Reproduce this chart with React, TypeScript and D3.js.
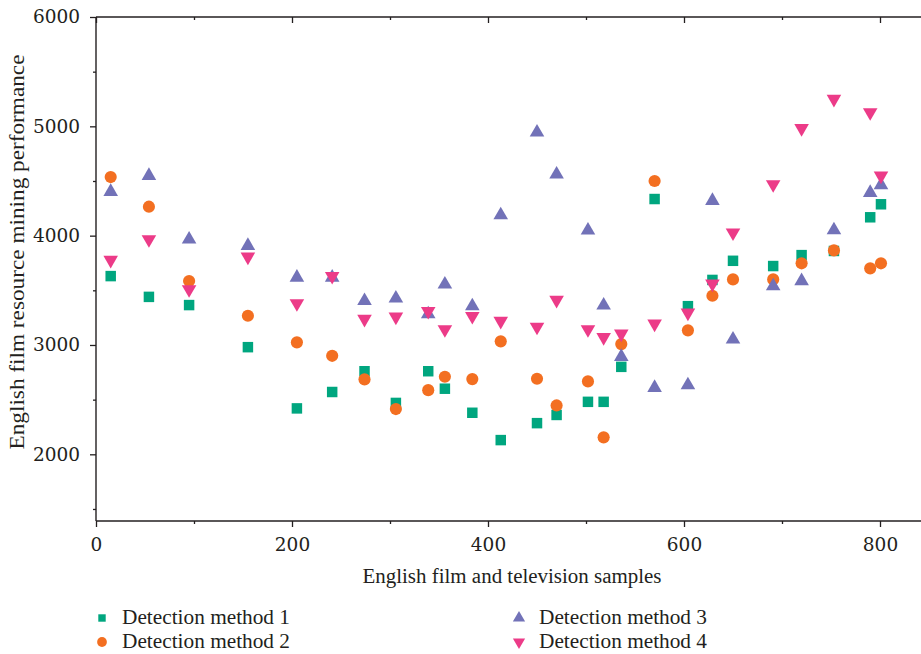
import React, { useEffect, useRef } from 'react';
import * as d3 from 'd3';

// sample positions (x axis) shared by all four methods
const samples = [15, 54, 95, 155, 205, 241, 274, 306, 339, 356, 384, 413, 450, 470, 502, 518, 536, 570, 604, 629, 650, 691, 720, 753, 790, 801];

const method1 = [3630, 3440, 3365, 2980, 2420, 2570, 2760, 2470, 2760, 2600, 2380, 2130, 2285, 2360, 2480, 2480, 2800, 4335, 3355, 3595, 3770, 3722, 3822, 3860, 4168, 4287];
const method2 = [4536, 4265, 3585, 3267, 3024, 2901, 2685, 2414, 2587, 2709, 2688, 3033, 2691, 2447, 2667, 2155, 3008, 4500, 3134, 3450, 3600, 3600, 3747, 3865, 3701, 3747];
const method3 = [4402, 4548, 3966, 3908, 3618, 3618, 3404, 3426, 3283, 3554, 3356, 4188, 4945, 4561, 4048, 3362, 2892, 2609, 2633, 4319, 3051, 3539, 3585, 4051, 4393, 4463];
const method4 = [3777, 3966, 3509, 3807, 3380, 3630, 3237, 3258, 3310, 3143, 3264, 3219, 3166, 3411, 3143, 3070, 3102, 3194, 3295, 3560, 4027, 4469, 4982, 5250, 5128, 4548];

const seriesNames = ['Detection method 1', 'Detection method 2', 'Detection method 3', 'Detection method 4'];
const seriesColors = ['#00a67f', '#f36f21', '#7272b8', '#ec3b88'];

const xTicks = [0, 200, 400, 600, 800];
const xMinor = [100, 300, 500, 700];
const yTicks = [2000, 3000, 4000, 5000, 6000];
const yMinor = [1500, 2500, 3500, 4500, 5500];

const W = 921;
const H = 654;
const FONT = 'Liberation Serif, Times New Roman, serif';
const TICK_FONT = 'DejaVu Serif, serif';

const App = () => {
  const svgRef = useRef<SVGSVGElement>(null);

  useEffect(() => {
    const svg = d3.select(svgRef.current);
    svg.selectAll('*').remove();

    const left = 96, top = 17, bottom = 521, right = 925;

    const x = d3.scaleLinear().domain([0, (right - left) / 0.98]).range([left, right]);
    const y = d3.scaleLinear().domain([1390, 6000]).range([bottom, top]);

    const axisColor = '#231f20';

    // frame lines
    const frame = svg.append('g').attr('stroke', axisColor).attr('stroke-width', 1.4).attr('fill', 'none');
    frame.append('line').attr('x1', left).attr('x2', left).attr('y1', top).attr('y2', bottom);
    frame.append('line').attr('x1', left).attr('x2', W).attr('y1', top).attr('y2', top);
    frame.append('line').attr('x1', left).attr('x2', W).attr('y1', bottom).attr('y2', bottom);

    // bottom axis
    const gx = svg.append('g').attr('transform', `translate(0, ${bottom})`)
      .call(d3.axisBottom(x).tickValues(xTicks).tickSize(6).tickPadding(11).tickFormat(d3.format('d')));
    gx.append('g').call(d3.axisBottom(x).tickValues(xMinor).tickSize(3).tickFormat(() => ''));

    // top axis (ticks pointing in)
    const gt = svg.append('g').attr('transform', `translate(0, ${top})`)
      .call(d3.axisTop(x).tickValues(xTicks).tickSize(-6).tickFormat(() => ''));
    gt.append('g').call(d3.axisTop(x).tickValues(xMinor).tickSize(-3).tickFormat(() => ''));

    // left axis
    const gy = svg.append('g').attr('transform', `translate(${left}, 0)`)
      .call(d3.axisLeft(y).tickValues(yTicks).tickSize(6).tickPadding(10).tickFormat(d3.format('d')));
    gy.append('g').call(d3.axisLeft(y).tickValues(yMinor).tickSize(3).tickFormat(() => ''));

    svg.selectAll('.domain').remove();
    svg.selectAll('.tick line').attr('stroke', axisColor).attr('stroke-width', 1.3);
    svg.selectAll('.tick text')
      .attr('fill', '#231f20')
      .style('font-family', TICK_FONT)
      .style('font-size', '18.5px');

    // axis titles
    svg.append('text')
      .attr('x', 512)
      .attr('y', 583)
      .attr('text-anchor', 'middle')
      .attr('textLength', 299)
      .attr('lengthAdjust', 'spacingAndGlyphs')
      .style('font-family', FONT)
      .style('font-size', '20px')
      .attr('fill', '#231f20')
      .text('English film and television samples');

    svg.append('text')
      .attr('transform', `translate(24, ${252}) rotate(-90)`)
      .attr('text-anchor', 'middle')
      .attr('textLength', 395)
      .attr('lengthAdjust', 'spacingAndGlyphs')
      .style('font-family', FONT)
      .style('font-size', '20px')
      .attr('fill', '#231f20')
      .text('English film resource mining performance');

    // markers
    const shapes = [d3.symbolSquare, d3.symbolCircle, d3.symbolTriangle, d3.symbolTriangle];
    const sizes = [110, 116, 92, 92];
    const rotations = [0, 0, 0, 180];
    const allSeries = [method1, method2, method3, method4];

    allSeries.forEach((vals, si) => {
      const sym = d3.symbol().type(shapes[si]).size(sizes[si]);
      svg.append('g')
        .selectAll('path')
        .data(vals)
        .enter()
        .append('path')
        .attr('d', sym)
        .attr('fill', seriesColors[si])
        .attr('transform', (d, i) => `translate(${x(samples[i])}, ${y(d)}) rotate(${rotations[si]})`);
    });

    // legend
    const legendPos = [
      { mx: 102, ty: 624 },
      { mx: 102, ty: 648 },
      { mx: 519, ty: 624 },
      { mx: 519, ty: 648 },
    ];
    const legendSizes = [55, 75, 65, 65];
    seriesNames.forEach((name, si) => {
      const p = legendPos[si];
      const sym = d3.symbol().type(shapes[si]).size(legendSizes[si]);
      svg.append('path')
        .attr('d', sym)
        .attr('fill', seriesColors[si])
        .attr('transform', `translate(${p.mx}, ${p.ty - 6}) rotate(${rotations[si]})`);
      svg.append('text')
        .attr('x', p.mx + 20)
        .attr('y', p.ty)
        .attr('textLength', 168)
        .attr('lengthAdjust', 'spacingAndGlyphs')
        .style('font-family', FONT)
        .style('font-size', '20px')
        .attr('fill', '#231f20')
        .text(name);
    });
  }, []);

  return (
    <div style={{ position: 'absolute', left: 0, top: 0 }}>
      <svg ref={svgRef} width={W} height={H} style={{ display: 'block', background: '#fff' }}></svg>
    </div>
  );
};

export default App;
